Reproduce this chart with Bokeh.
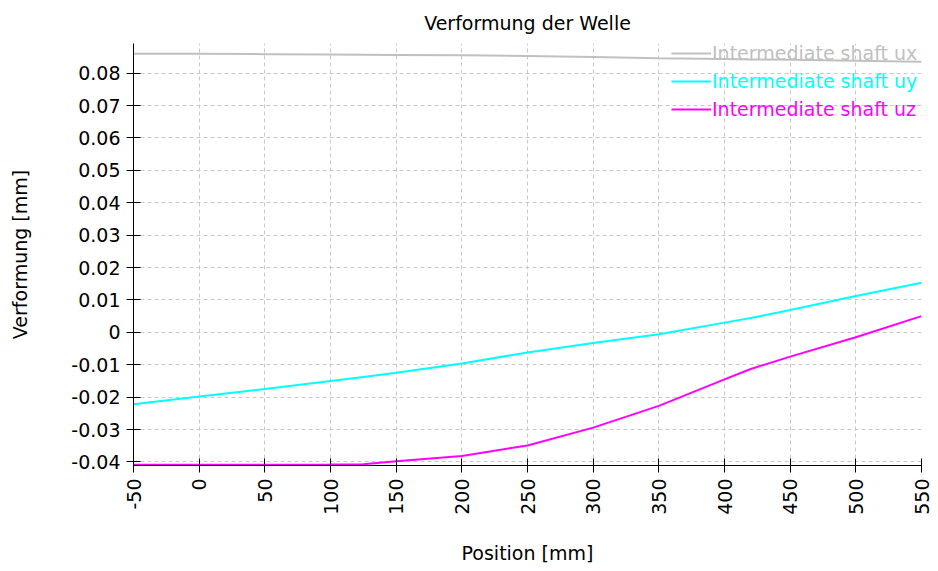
import math
from bokeh.plotting import figure
from bokeh.models import (Range1d, FixedTicker, CustomJSTickFormatter, Legend, LegendItem)
from bokeh.embed import file_html
from bokeh.resources import INLINE

# ---- data ----
position = [-50, 0, 50, 100, 125, 150, 200, 250, 300, 350, 400, 420, 450, 500, 550]
ux = [0.08602, 0.08596, 0.08586, 0.08574, 0.08569, 0.08563, 0.08549, 0.08528, 0.08495,
      0.08460, 0.08435, 0.08425, 0.08410, 0.08383, 0.08355]
uy = [-0.0222, -0.0198, -0.0175, -0.0150, -0.01375, -0.0125, -0.0096, -0.0062, -0.0033,
      -0.0006, 0.0030, 0.0044, 0.0069, 0.0112, 0.0153]
uz = [-0.0409, -0.0409, -0.0409, -0.0408, -0.0407, -0.0398, -0.0382, -0.0349, -0.0294,
      -0.0227, -0.0145, -0.0113, -0.0075, -0.0015, 0.0050]

series_names = ["Intermediate shaft ux", "Intermediate shaft uy", "Intermediate shaft uz"]
series_colors = ["#c0c0c0", "#00ffff", "#ff00ff"]

x_ticks = [-50, 0, 50, 100, 150, 200, 250, 300, 350, 400, 450, 500, 550]
y_ticks = [-0.04, -0.03, -0.02, -0.01, 0.0, 0.01, 0.02, 0.03, 0.04, 0.05, 0.06, 0.07, 0.08]

title_text = "Verformung der Welle"
x_label = "Position [mm]"
y_label = "Verformung [mm]"

FONT = "DejaVu Sans"

p = figure(width=938, height=571, output_backend="svg", toolbar_location=None,
           x_range=Range1d(-50, 550), y_range=Range1d(-0.0411, 0.08915),
           title=title_text,
           min_border_left=133, min_border_right=17, min_border_top=43, min_border_bottom=106)

p.outline_line_color = None
p.background_fill_color = "white"
p.border_fill_color = "white"

p.title.align = "center"
p.title.text_font = FONT
p.title.text_font_size = "19px"
p.title.text_font_style = "normal"
p.title.text_color = "black"
p.title.standoff = 19

for ax in (p.xaxis[0], p.yaxis[0]):
    ax.axis_line_color = "black"
    ax.major_tick_line_color = "black"
    ax.major_tick_in = 7
    ax.major_tick_out = 7
    ax.minor_tick_line_color = None
    ax.major_label_text_font = FONT
    ax.major_label_text_font_size = "19px"
    ax.major_label_text_color = "black"
    ax.axis_label_text_font = FONT
    ax.axis_label_text_font_size = "19px"
    ax.axis_label_text_font_style = "normal"
    ax.axis_label_text_color = "black"
    ax.major_label_standoff = 6

p.xaxis.ticker = FixedTicker(ticks=x_ticks)
p.yaxis.ticker = FixedTicker(ticks=y_ticks)
p.xaxis.major_label_orientation = math.pi / 2
p.xaxis.formatter = CustomJSTickFormatter(code="return tick.toFixed(0);")
p.yaxis.formatter = CustomJSTickFormatter(
    code="return Math.abs(tick) < 1e-9 ? '0' : tick.toFixed(2);")
p.xaxis.axis_label = x_label
p.yaxis.axis_label = y_label
p.xaxis.axis_label_standoff = 24
p.yaxis.axis_label_standoff = 37

for g in (p.xgrid[0], p.ygrid[0]):
    g.grid_line_color = "#c8c8c8"
    g.grid_line_dash = "4 3"
    g.grid_line_width = 1

renderers = []
for vals, col in zip([ux, uy, uz], series_colors):
    r = p.line(position, vals, line_color=col, line_width=2)
    renderers.append(r)

legend_bottoms = [401, 373, 345]
for name, col, r, yb in zip(series_names, series_colors, renderers, legend_bottoms):
    lg = Legend(items=[LegendItem(label=name, renderers=[r])],
                location=(538, yb), padding=0, margin=0, spacing=0,
                glyph_width=40, glyph_height=20, label_height=20, label_standoff=1,
                background_fill_alpha=0, border_line_color=None,
                label_text_font=FONT, label_text_font_size="19px",
                label_text_color=col)
    p.add_layout(lg, "center")

open("out.html", "w").write(file_html(p, INLINE))
